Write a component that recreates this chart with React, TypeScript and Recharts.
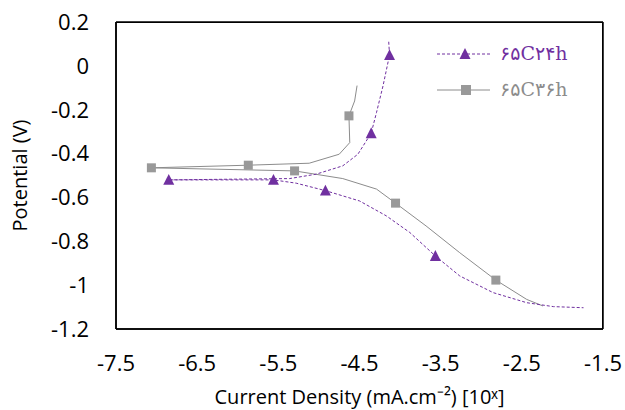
import { LineChart, Line, XAxis, YAxis, CartesianGrid } from "recharts";

// log current density (x) vs potential (y)
const purpleX = [-4.14, -4.13, -4.21, -4.29, -4.356, -4.52, -4.706, -5.035, -5.36, -6.85, -5.56, -5.28, -4.92, -4.5, -4.17, -3.88, -3.565, -3.265, -2.854, -2.44, -2.11, -1.74];
const purpleY = [0.11, 0.049, -0.091, -0.212, -0.307, -0.403, -0.456, -0.494, -0.514, -0.52, -0.52, -0.535, -0.569, -0.616, -0.684, -0.76, -0.867, -0.958, -1.034, -1.08, -1.098, -1.103];
const purpleMarks = [1, 4, 9, 10, 12, 16];

const grayX = [-4.53, -4.56, -4.63, -4.62, -4.75, -5.12, -5.87, -7.064, -5.3, -4.706, -4.29, -4.056, -3.68, -3.265, -2.82, -2.44, -2.24];
const grayY = [-0.09, -0.16, -0.228, -0.35, -0.403, -0.444, -0.453, -0.465, -0.479, -0.514, -0.562, -0.626, -0.73, -0.852, -0.977, -1.065, -1.095];
const grayMarks = [2, 6, 7, 8, 11, 14];

const xTicks = [-7.5, -6.5, -5.5, -4.5, -3.5, -2.5, -1.5];
const yTicks = [0.2, 0, -0.2, -0.4, -0.6, -0.8, -1, -1.2];
const xDomain: [number, number] = [-7.5, -1.5];
const yDomain: [number, number] = [-1.2, 0.2];

const purple = "#7030A0";
const gray = "#8C8C8C";
const tickFont = "'Open Sans', sans-serif";
const frame = { stroke: "#000", strokeWidth: 1.5 };

const W = 625;
const H = 410;
const M = { top: 22, right: 22, left: 0, bottom: 0 };
const yAxisW = 116;
const xAxisH = 81;

const purpleData = purpleX.map((x, i) => ({ x, y: purpleY[i], m: purpleMarks.includes(i) }));
const grayData = grayX.map((x, i) => ({ x, y: grayY[i], m: grayMarks.includes(i) }));

function Triangle({ cx, cy, size = 11 }: { cx: number; cy: number; size?: number }) {
  const h = size * 0.9;
  return (
    <path
      d={`M${cx},${cy - h / 2 - 1} L${cx + size / 2},${cy + h / 2} L${cx - size / 2},${cy + h / 2} Z`}
      fill={purple}
    />
  );
}

function Square({ cx, cy, size = 9 }: { cx: number; cy: number; size?: number }) {
  return <rect x={cx - size / 2} y={cy - size / 2} width={size} height={size} fill="#999999" />;
}

const triDot = (p: any) =>
  p.payload.m ? <Triangle key={p.index} cx={p.cx} cy={p.cy} /> : <g key={p.index} />;
const sqDot = (p: any) =>
  p.payload.m ? <Square key={p.index} cx={p.cx} cy={p.cy} /> : <g key={p.index} />;

function LegendBox() {
  const rows = [
    { name: "۶۵C۲۴h", color: purple, dash: "3 2", y: 18, shape: "tri" },
    { name: "۶۵C۳۶h", color: gray, dash: undefined, y: 54, shape: "sq" },
  ];
  return (
    <svg width={160} height={72} style={{ position: "absolute", left: 435, top: 36 }}>
      {rows.map((r) => (
        <g key={r.name}>
          <line x1={2} x2={55} y1={r.y} y2={r.y} stroke={r.color} strokeWidth={1} strokeDasharray={r.dash} />
          {r.shape === "tri" ? <Triangle cx={30} cy={r.y} /> : <Square cx={31} cy={r.y} size={10} />}
          <text
            x={65}
            y={r.y + 6}
            fill={r.color}
            fontSize={19}
            fontFamily="'DejaVu Serif', 'DejaVu Sans', serif"
          >
            {r.name}
          </text>
        </g>
      ))}
    </svg>
  );
}

export default function App() {
  return (
    <div style={{ position: "absolute", left: 0, top: 0, width: W, height: H, background: "#fff" }}>
      <LineChart width={W} height={H} margin={M}>
        {/* only the outer edges of the plot, as a frame */}
        <CartesianGrid
          horizontalValues={yDomain}
          verticalValues={xDomain}
          stroke="#000"
          strokeWidth={1.5}
          strokeOpacity={1}
        />
        <XAxis
          type="number"
          dataKey="x"
          domain={xDomain}
          ticks={xTicks}
          axisLine={frame}
          tickLine={false}
          tickSize={0}
          tickMargin={26}
          height={xAxisH}
          tick={{ fill: "#000", fontSize: 22, fontFamily: tickFont }}
          label={{
            value: "Current Density (mA.cm⁻²) [10ˣ]",
            position: "insideBottom",
            offset: 6,
            fill: "#000",
            fontSize: 20,
            fontFamily: tickFont,
          }}
        />
        <YAxis
          type="number"
          dataKey="y"
          domain={yDomain}
          ticks={yTicks}
          axisLine={frame}
          tickLine={false}
          tickSize={0}
          tickMargin={27}
          width={yAxisW}
          tick={{ fill: "#000", fontSize: 22, fontFamily: tickFont }}
          label={{
            value: "Potential (V)",
            angle: -90,
            position: "insideLeft",
            offset: 20,
            style: { textAnchor: "middle" },
            fill: "#000",
            fontSize: 20,
            fontFamily: tickFont,
          }}
        />
        <Line
          data={grayData}
          dataKey="y"
          type="linear"
          stroke={gray}
          strokeWidth={1}
          dot={sqDot}
          activeDot={false}
          isAnimationActive={false}
        />
        <Line
          data={purpleData}
          dataKey="y"
          type="linear"
          stroke={purple}
          strokeWidth={1}
          strokeDasharray="3 2"
          dot={triDot}
          activeDot={false}
          isAnimationActive={false}
        />
      </LineChart>
      <div
        style={{
          position: "absolute",
          left: M.left + yAxisW,
          top: M.top,
          width: W - M.right - M.left - yAxisW,
          height: H - M.top - M.bottom - xAxisH,
          borderTop: "1.5px solid #000",
          borderRight: "1.5px solid #000",
          boxSizing: "border-box",
          pointerEvents: "none",
        }}
      />
      <LegendBox />
    </div>
  );
}
